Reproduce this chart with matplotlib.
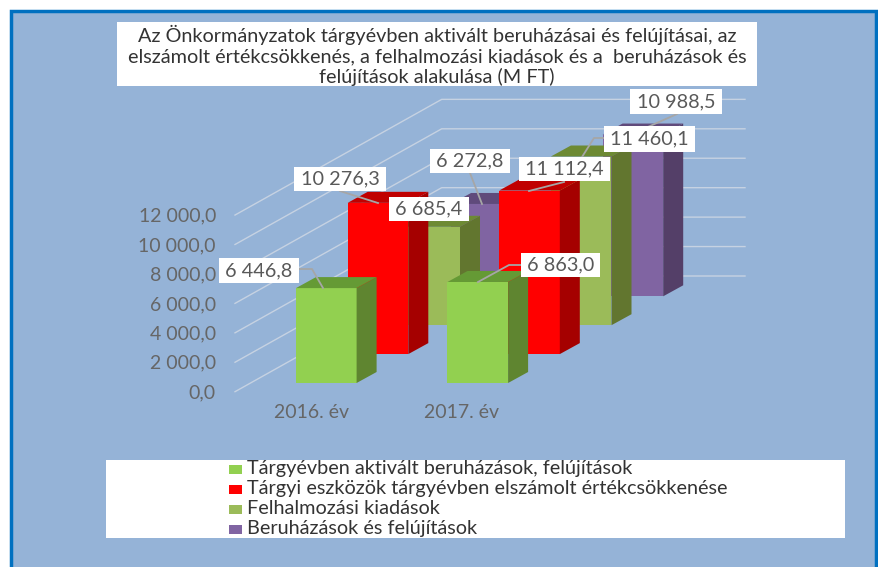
import matplotlib
matplotlib.use('Agg')
import matplotlib.pyplot as plt
from matplotlib.patches import Polygon, Rectangle

plt.rcParams['font.family'] = ['Lato', 'DejaVu Sans']

# data
years = ['2016. év', '2017. év']
series_names = ['Tárgyévben aktivált beruházások, felújítások',
                'Tárgyi eszközök tárgyévben elszámolt értékcsökkenése',
                'Felhalmozási kiadások',
                'Beruházások és felújítások']
aktivalt = [6446.8, 6863.0]
ertekcsokkenes = [10276.3, 11112.4]
felhalmozasi = [6685.4, 11460.1]
beruhazasok = [6272.8, 10988.5]
y_ticks = [0, 2000, 4000, 6000, 8000, 10000, 12000]

title_lines = ['Az Önkormányzatok tárgyévben aktivált beruházásai és felújításai, az',
               'elszámolt értékcsökkenés, a felhalmozási kiadások és a  beruházások és',
               'felújítások alakulása (M FT)']

# colours: front, side, top
face_colors = ['#92D050', '#FF0000', '#9BBB59', '#8064A2']
side_colors = ['#5F8530', '#A50000', '#62762F', '#543F68']
top_colors = ['#659A35', '#C00000', '#6D8A33', '#604A7B']

# pseudo 3d layout, in pixels of the 879x567 picture
bar_x0 = 296
bar_base = 383
bar_w = 60.6
cat_step = 151.5
ser_dx = 51.7
ser_dy = 28.9
depth_dx = 20
depth_dy = 11
px_per_unit = 0.01472

# label boxes (x0, x1, y0, y1) and leader lines
label_boxes = [[(219, 299, 258, 283), (521, 600, 253, 277)],
               [(294, 386, 167, 191), (519, 610, 157, 181)],
               [(389, 469, 197, 221), (604, 695, 126, 152)],
               [(430, 510, 149, 173), (630, 722, 89, 114)]]
label_leaders = [[[(299, 269), (312, 269), (323, 288)], [(521, 265), (509, 265), (478, 282)]],
                 [[(340, 191), (378, 203)], [(564, 182), (529, 191)]],
                 [[], [(604, 138), (594, 138), (582, 157)]],
                 [[(470, 173), (482, 204)], [(677, 114), (632, 134)]]]


def fmt(v):
    return f'{v:,.1f}'.replace(',', ' ').replace('.', ',')


fig = plt.figure(figsize=(8.79, 5.67), dpi=100, facecolor='white')
ax = fig.add_axes([0, 0, 1, 1])
ax.set_xlim(0, 879)
ax.set_ylim(567, 0)
ax.axis('off')

# panel
ax.add_patch(Rectangle((11, 11), 865, 570, fc='#95B3D7', ec='#0070C0', lw=2.5))

# gridlines and tick labels
grid_x0, grid_y0, grid_dx, grid_dy, grid_x1 = 235, 391.7, 206.7, 115.7, 745
for t in y_ticks:
    y = grid_y0 - t * px_per_unit
    ax.plot([grid_x0, grid_x0 + grid_dx, grid_x1], [y, y - grid_dy, y - grid_dy],
            color='#C6D2E2', lw=1.0, zorder=1)
    ax.text(216, y + 1, fmt(t), ha='right', va='center', fontsize=14, color='#666666')

# bars, back series first
all_values = [aktivalt, ertekcsokkenes, felhalmozasi, beruhazasok]
z = 2
for s in range(3, -1, -1):
    for c in range(2):
        v = all_values[s][c]
        x0 = bar_x0 + c * cat_step + s * ser_dx
        x1 = x0 + bar_w
        yb = bar_base - s * ser_dy
        yt = yb - v * px_per_unit
        ax.add_patch(Polygon([(x0, yb), (x1, yb), (x1, yt), (x0, yt)], fc=face_colors[s], ec='none', zorder=z))
        ax.add_patch(Polygon([(x1, yb), (x1 + depth_dx, yb - depth_dy), (x1 + depth_dx, yt - depth_dy), (x1, yt)],
                             fc=side_colors[s], ec='none', zorder=z))
        ax.add_patch(Polygon([(x0, yt), (x1, yt), (x1 + depth_dx, yt - depth_dy), (x0 + depth_dx, yt - depth_dy)],
                             fc=top_colors[s], ec='none', zorder=z))
        z += 1

# category labels
for c, name in enumerate(years):
    ax.text(312 + c * 150, 412, name, ha='center', va='center', fontsize=14, color='#666666')

# data labels
for s in range(4):
    for c in range(2):
        x0, x1, y0, y1 = label_boxes[s][c]
        pts = label_leaders[s][c]
        if pts:
            ax.plot([p[0] for p in pts], [p[1] for p in pts], color='#A6A6A6', lw=1.3, zorder=30)
        ax.add_patch(Rectangle((x0, y0), x1 - x0, y1 - y0, fc='white', ec='none', zorder=31))
        ax.text((x0 + x1) / 2, (y0 + y1) / 2, fmt(all_values[s][c]), ha='center', va='center',
                fontsize=14.3, color='#595959', zorder=32)

# title
ax.add_patch(Rectangle((117, 22), 640, 64, fc='white', ec='none', zorder=40))
for y, line in zip([35, 57, 77], title_lines):
    ax.text(437, y, line, ha='center', va='center', fontsize=14.3, color='#333333', zorder=41)

# legend
ax.add_patch(Rectangle((106, 460), 739, 78, fc='white', ec='none', zorder=40))
for y, name, col in zip([469, 489, 509, 529], series_names, face_colors):
    ax.add_patch(Rectangle((229, y - 4.5), 13, 9, fc=col, ec='none', zorder=41))
    ax.text(247.5, y - 0.5, name, ha='left', va='center', fontsize=14.3, color='#333333', zorder=41)

fig.savefig('out.png', dpi=100)
